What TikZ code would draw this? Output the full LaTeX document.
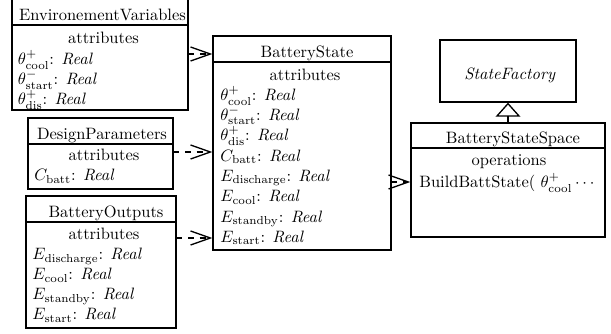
\documentclass[tikz,border=0pt]{standalone}
\usetikzlibrary{arrows.meta,fit}
\begin{document}
\begin{tikzpicture}[x=0.6064pt,y=-0.6064pt,
  box/.style={draw, line width=0.8pt, inner sep=0pt},
  sep/.style={line width=0.8pt},
  txt/.style={inner sep=0pt, anchor=base},
  lft/.style={inner sep=0pt, anchor=base west},
  dep/.style={line width=0.8pt, dash pattern=on 3.5pt off 3.5pt, -{Straight Barb[length=12pt,width=8.5pt]}},
  inh/.style={line width=0.8pt, -{Triangle[open,length=8.5pt,width=15pt]}}]
\useasboundingbox (0,0) rectangle (611,334);

% EnvironementVariables
\node[box, fit={(12,-3) (188,110)}] (env) {};
\coordinate (envh) at (0,25);
\draw[sep] (env.west |- envh) -- (env.east |- envh);
\node[txt] (envt) at (102.5,20.5) {EnvironementVariables};
\node[txt] (enva) at (103.5,44) {attributes};
\node[lft] (env1) at (17.5,64.5) {$\theta^{+}_{\mathrm{cool}}$: \textit{Real}};
\node[lft] (env2) at (17.5,85) {$\theta^{-}_{\mathrm{start}}$: \textit{Real}};
\node[lft] (env3) at (17.5,105) {$\theta^{+}_{\mathrm{dis}}$: \textit{Real}};

% DesignParameters
\node[box, fit={(28,118) (173,189)}] (dp) {};
\coordinate (dph) at (0,144);
\draw[sep] (dp.west |- dph) -- (dp.east |- dph);
\node[txt] (dpt) at (102,139.5) {DesignParameters};
\node[txt] (dpa) at (104,161) {attributes};
\node[lft] (dp1) at (34,181) {$C_{\mathrm{batt}}$: \textit{Real}};

% BatteryOutputs
\node[box, fit={(26,196) (176,328)}] (bo) {};
\coordinate (boh) at (0,222);
\draw[sep] (bo.west |- boh) -- (bo.east |- boh);
\node[txt] (bot) at (106,218) {BatteryOutputs};
\node[txt] (boa) at (104,240) {attributes};
\node[lft] (bo1) at (32,260) {$E_{\mathrm{discharge}}$: \textit{Real}};
\node[lft] (bo2) at (32,280) {$E_{\mathrm{cool}}$: \textit{Real}};
\node[lft] (bo3) at (32,300) {$E_{\mathrm{standby}}$: \textit{Real}};
\node[lft] (bo4) at (32,320) {$E_{\mathrm{start}}$: \textit{Real}};

% BatteryState
\node[box, fit={(213,36) (391,250)}] (bs) {};
\coordinate (bsh) at (0,62);
\draw[sep] (bs.west |- bsh) -- (bs.east |- bsh);
\node[txt] (bst) at (307,57.5) {BatteryState};
\node[txt] (bsa) at (305,80.5) {attributes};
\node[lft] (bs1) at (220,100.3) {$\theta^{+}_{\mathrm{cool}}$: \textit{Real}};
\node[lft] (bs2) at (220,120.6) {$\theta^{-}_{\mathrm{start}}$: \textit{Real}};
\node[lft] (bs3) at (220,140.9) {$\theta^{+}_{\mathrm{dis}}$: \textit{Real}};
\node[lft] (bs4) at (220,161.2) {$C_{\mathrm{batt}}$: \textit{Real}};
\node[lft] (bs5) at (220,181.5) {$E_{\mathrm{discharge}}$: \textit{Real}};
\node[lft] (bs6) at (220,201.8) {$E_{\mathrm{cool}}$: \textit{Real}};
\node[lft] (bs7) at (220,222.1) {$E_{\mathrm{standby}}$: \textit{Real}};
\node[lft] (bs8) at (220,242.4) {$E_{\mathrm{start}}$: \textit{Real}};

% StateFactory
\node[box, fit={(440,40) (576,102)}] (sf) {};
\node[txt] (sft) at (510,80) {\textit{StateFactory}};

% BatteryStateSpace
\node[box, fit={(411,123) (605,237)}] (bss) {};
\coordinate (bssh) at (0,148);
\draw[sep] (bss.west |- bssh) -- (bss.east |- bssh);
\node[txt] (bsst) at (513,143.5) {BatteryStateSpace};
\node[txt] (bsso) at (509,165.5) {operations};
\node[lft] (bss1) at (419,188) {BuildBattState( $\theta^{+}_{\mathrm{cool}}\cdots$};

% connectors
\coordinate (y1) at (0,54);
\draw[dep] (env.east |- y1) -- (bs.west |- y1);
\coordinate (y2) at (0,152);
\draw[dep] (dp.east |- y2) -- (bs.west |- y2);
\coordinate (y3) at (0,238);
\draw[dep] (bo.east |- y3) -- (bs.west |- y3);
\coordinate (y4) at (0,182);
\draw[dep] (bs.east |- y4) -- (bss.west |- y4);
\coordinate (x5) at (508,0);
\draw[inh] (bss.north -| x5) -- (sf.south -| x5);
\end{tikzpicture}
\end{document}
